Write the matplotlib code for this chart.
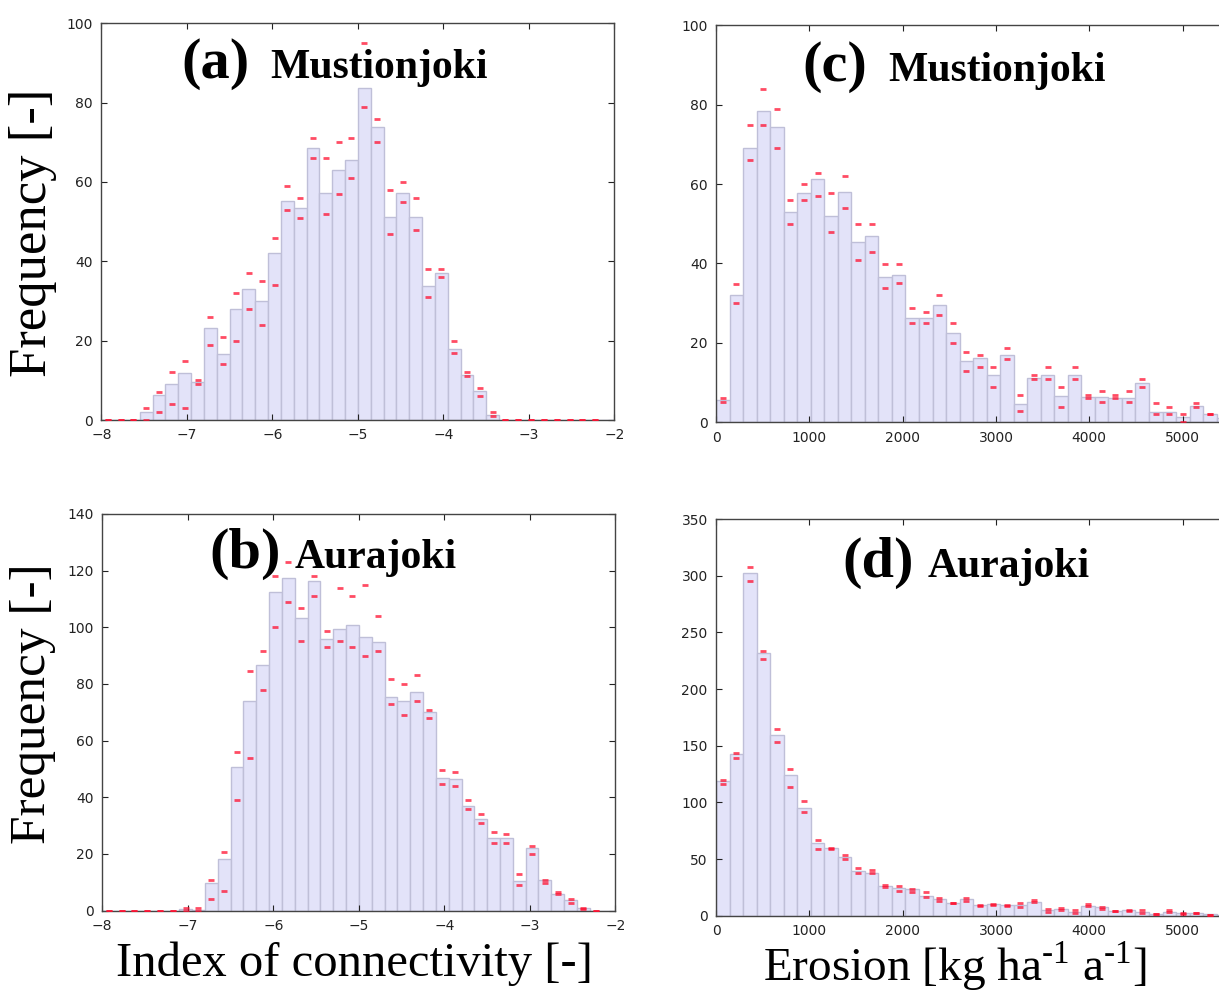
import numpy as np
import matplotlib
matplotlib.use('Agg')
import matplotlib.pyplot as plt

nan = np.nan

# --- connectivity index histograms, 40 bins of 0.15 from -8 ---
ic_start, ic_width = -8.0, 0.15
a_freq = [0, 0, 0, 2.1, 6.2, 9, 11.8, 9.6, 23.1, 16.6, 27.9, 32.9, 30, 42, 55.1, 53.5, 68.5, 57.1, 62.9, 65.5,
          83.8, 73.8, 51.2, 57.1, 51.1, 33.8, 37, 17.8, 11.3, 7.3, 1.3, 0, 0, 0, 0, 0, 0, 0, 0, 0]
a_hi = [0, 0, 0, 3, 7, 12, 15, 10, 26, 21, 32, 37, 35, 46, 59, 56, 71, 66, 70, 71,
        95, 76, 58, 60, 56, 38, 38, 20, 12, 8, 2, 0, 0, 0, 0, 0, 0, 0, 0, nan]
a_lo = [0, 0, 0, 0, 2, 4, 3, 9, 19, 14, 20, 28, 24, 34, 53, 51, 66, 52, 57, 61,
        79, 70, 47, 55, 48, 31, 36, 17, 11, 6, 1, 0, 0, 0, 0, 0, 0, 0, 0, nan]

b_freq = [0, 0, 0, 0, 0, 0, 0.7, 0.3, 9.6, 18.1, 50.6, 74, 86.6, 112.5, 117.5, 103.4, 116.4, 95.8, 99.5, 100.8,
          96.5, 94.7, 75.4, 73.9, 77, 70.1, 46.8, 46.4, 36.9, 32.2, 25.5, 25.5, 10.5, 22.1, 10.7, 6, 3.6, 0.8, 0, 0]
b_hi = [0, 0, 0, 0, 0, 0, 0.8, 0.8, 10.9, 20.8, 55.9, 84.7, 91.8, 118, 123, 106.8, 118, 98.7, 113.9, 111,
        114.8, 104, 81.8, 79.9, 83, 70.7, 49.8, 48.8, 38.9, 34, 27.8, 26.9, 12.9, 22.8, 10.9, 6.7, 4, 0.9, 0, nan]
b_lo = [0, 0, 0, 0, 0, 0, 0, 0, 4.1, 6.9, 39, 54, 77.9, 100, 109, 95, 111, 93, 95, 93,
        90, 91.8, 72.9, 69, 74, 67.9, 44.8, 44, 35.9, 30.9, 23.9, 23.9, 9.1, 20, 9.9, 6, 2.8, 0.7, 0, nan]

# --- erosion histograms, bins of 145 kg/ha/a from 0 ---
er_start, er_width = 0.0, 145.0
c_freq = [5.5, 32, 69.2, 78.5, 74.5, 53, 57.8, 61.2, 52, 58.1, 45.4, 46.8, 36.6, 37, 26.2, 26.2, 29.6, 22.6, 15.4, 16.1,
          11.8, 17, 4.5, 11.2, 11.9, 6.6, 11.9, 6.3, 6.3, 6.2, 6.1, 9.9, 2.6, 2.6, 1.3, 4, 2, 1, 0, 0]
c_hi = [6, 34.9, 74.9, 83.9, 78.9, 56, 59.9, 62.8, 57.8, 62, 49.9, 49.9, 39.9, 39.9, 28.9, 27.8, 32, 24.9, 17.8, 17,
        13.9, 18.8, 7, 11.9, 13.9, 8.8, 13.9, 7, 7.9, 7, 7.9, 10.9, 4.9, 3.9, 2, 4.9, 2, 1.5, nan, nan]
c_lo = [5, 30, 66, 75, 69, 50, 56, 57, 48, 54, 41, 42.9, 33.9, 35, 25, 25, 27, 20, 12.9, 13.9,
        9, 16, 2.9, 11, 11, 3.9, 11, 6, 5, 6, 5, 8.9, 2, 2, 0, 3.9, 2, 0.5, nan, nan]

d_freq = [118.8, 142.9, 302.6, 231.5, 159.7, 123.8, 94.7, 64.4, 60, 51.8, 39.1, 37.9, 26.2, 24.1, 23.5, 17.4, 14.4, 11.5,
          14.7, 9.7, 10, 9.7, 9.4, 12.4, 5, 5.6, 2.9, 8.8, 7.6, 4.4, 4.7, 2.9, 1.5, 3.5, 2.1, 2.1, 1.5, 0.9, 0, 0]
d_hi = [119.7, 143.2, 307.6, 233.8, 164.4, 129.4, 101.2, 66.8, 59.6, 53.2, 42.1, 40, 27.4, 26.5, 23.8, 20.9, 15.3, 11.4,
        15.9, 9.4, 10.3, 9.7, 10.9, 13.8, 5.6, 7, 4.7, 10, 7.9, 4.4, 4.7, 5, 1.8, 4.7, 2, 2.6, 0.9, 0.3, nan, nan]
d_lo = [116.5, 139.4, 295.6, 226.8, 153.2, 113.8, 91.2, 58.5, 59, 50.3, 37.4, 37.4, 25, 22.1, 21.2, 16.8, 13.2, 11,
        13.2, 8.8, 9.8, 8.8, 7.6, 11.8, 3.5, 5.3, 2, 8.2, 6.2, 3.8, 3.8, 2.4, 1.2, 3.2, 1.5, 2, 0.5, 0, nan, nan]

panels = [
    # key, name, values, hi, lo, bin start, width, xlim, ylim, ytick step, axes rect, title pos
    ('(a)', 'Mustionjoki', a_freq, a_hi, a_lo, ic_start, ic_width, (-8, -2), 100, 20,
     [0.0831, 0.5766, 0.4210, 0.3999], (0.157, 0.330, 0.862)),
    ('(b)', 'Aurajoki', b_freq, b_hi, b_lo, ic_start, ic_width, (-8, -2), 140, 20,
     [0.0839, 0.0820, 0.4210, 0.3999], (0.208, 0.375, 0.864)),
    ('(c)', 'Mustionjoki', c_freq, c_hi, c_lo, er_start, er_width, (0, 5500), 100, 20,
     [0.5874, 0.5743, 0.4210, 0.4002], (0.169, 0.336, 0.860)),
    ('(d)', 'Aurajoki', d_freq, d_hi, d_lo, er_start, er_width, (0, 5500), 350, 50,
     [0.5874, 0.0769, 0.4210, 0.3999], (0.247, 0.413, 0.854)),
]

plt.rcParams['mathtext.fontset'] = 'custom'
plt.rcParams['mathtext.rm'] = 'Liberation Serif'
serif = ['Liberation Serif', 'DejaVu Serif']

fig = plt.figure(figsize=(12.19, 9.92), dpi=100)

for key, name, vals, hi, lo, start, width, xlim, ymax, ystep, rect, tpos in panels:
    ax = fig.add_axes(rect)
    vals = np.array(vals, dtype=float)
    left = start + width * np.arange(len(vals))
    centers = left + width / 2
    ax.bar(left, vals, width=width, align='edge', color='#e3e3f9',
           edgecolor='#bfbfd8', linewidth=1.0, zorder=1)
    ax.plot(centers, hi, linestyle='none', marker='_', markersize=5,
            markeredgewidth=2, color='#ff1030', alpha=0.75, zorder=3)
    ax.plot(centers, lo, linestyle='none', marker='_', markersize=5,
            markeredgewidth=2, color='#ff1030', alpha=0.75, zorder=3)
    ax.set_xlim(*xlim)
    ax.set_ylim(0, ymax)
    ax.set_yticks(np.arange(0, ymax + 1, ystep))
    if xlim[1] > 0:
        ax.set_xticks(np.arange(0, 5001, 1000))
    else:
        ax.set_xticks(np.arange(-8, -1, 1))
    ax.tick_params(direction='in', top=True, right=True, length=4, width=0.8,
                   labelsize=10, pad=6, colors='#222222')
    for sp in ax.spines.values():
        sp.set_color('#444444')
        sp.set_linewidth(1.0)
    ax.text(tpos[0], tpos[2], key, transform=ax.transAxes, fontsize=42,
            fontweight='bold', family=serif, va='baseline', ha='left')
    ax.text(tpos[1], tpos[2], name, transform=ax.transAxes, fontsize=30,
            fontweight='bold', family=serif, va='baseline', ha='left')

fig.text(0.027, 0.765, 'Frequency [-]', rotation=90, fontsize=38, family=serif,
         ha='center', va='center')
fig.text(0.027, 0.291, 'Frequency [-]', rotation=90, fontsize=37, family=serif,
         ha='center', va='center')
fig.text(0.291, 0.016, 'Index of connectivity [-]', fontsize=35, family=serif,
         ha='center', va='baseline')
fig.text(0.783, 0.011, 'Erosion [kg ha$^{\\mathrm{\u20101}}$ a$^{\\mathrm{\u20101}}$]', fontsize=34,
         family=serif, ha='center', va='baseline')

fig.savefig('out.png', dpi=100)
